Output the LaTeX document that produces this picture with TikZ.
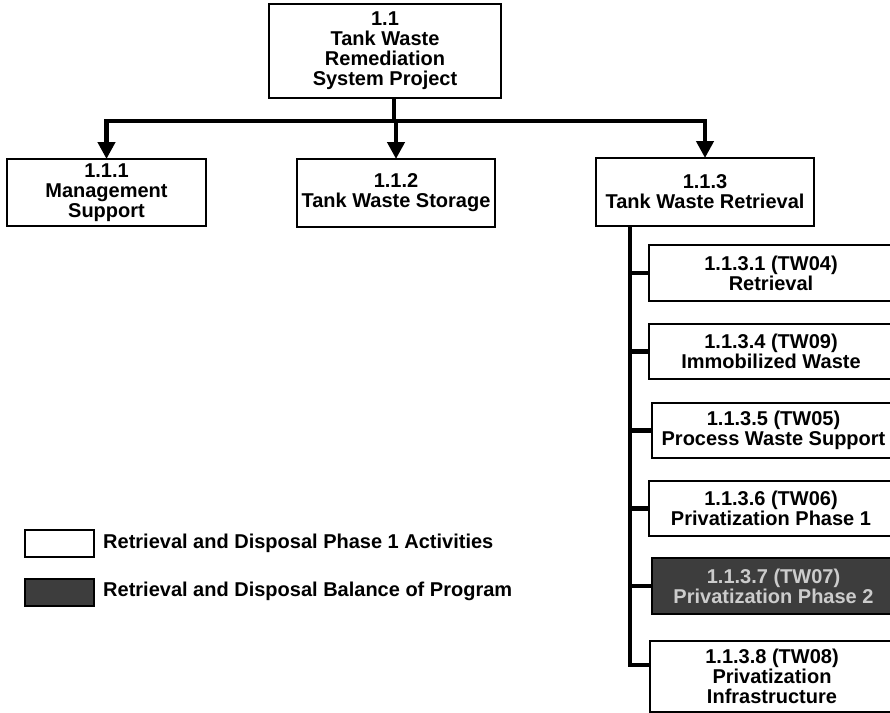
\documentclass[tikz,border=0pt]{standalone}
\usepackage{fontspec}
\setmainfont{Liberation Sans}
\usetikzlibrary{arrows.meta,calc}

\tikzset{
  wbs/.style={draw=black, line width=2pt, fill=white, anchor=north west,
    inner sep=0pt, align=center, font=\fontsize{20}{20}\selectfont\bfseries},
  wbsdark/.style={wbs, fill=black!76, text=black!20},
  link/.style={line width=4.5pt, line cap=butt},
  droparrow/.style={line width=4.5pt, -{Triangle[length=17pt,width=17pt]}, shorten >=-1pt},
  legtext/.style={anchor=west, inner sep=0pt, font=\fontsize{20}{20}\selectfont\bfseries}
}

\begin{document}
\begin{tikzpicture}[x=1pt,y=-1pt]
  \useasboundingbox[fill=white] (0,0) rectangle (890,712);

  % level 1
  \node[wbs, minimum width=232pt, minimum height=94pt] (top) at (268,3)
    {1.1\\Tank Waste\\Remediation\\System Project};

  % level 2
  \node[wbs, minimum width=199pt, minimum height=67pt] (mgmt) at (6,158)
    {1.1.1\\Management\\Support};
  \node[wbs, minimum width=198pt, minimum height=68pt] (stor) at (296,158)
    {1.1.2\\Tank Waste Storage};
  \node[wbs, minimum width=218pt, minimum height=68pt] (retr) at (595,157)
    {1.1.3\\Tank Waste Retrieval};

  % level 3 under 1.1.3
  \node[wbs, minimum width=244pt, minimum height=56pt] (c1) at (648,244)
    {1.1.3.1 (TW04)\\Retrieval};
  \node[wbs, minimum width=244pt, minimum height=55pt] (c4) at (648,323)
    {1.1.3.4 (TW09)\\Immobilized Waste};
  \node[wbs, minimum width=243pt, minimum height=55pt] (c5) at (651,402)
    {1.1.3.5 (TW05)\\Process Waste Support};
  \node[wbs, minimum width=244pt, minimum height=55pt] (c6) at (648,480)
    {1.1.3.6 (TW06)\\Privatization Phase 1};
  \node[wbsdark, minimum width=243pt, minimum height=56pt] (c7) at (651,557)
    {1.1.3.7 (TW07)\\Privatization Phase 2};
  \node[wbs, minimum width=244pt, minimum height=71pt] (c8) at (649,640)
    {1.1.3.8 (TW08)\\Privatization\\Infrastructure};

  % distribution bar from 1.1 to level 2
  \coordinate (bar) at (394,121);
  \draw[link] (bar |- top.south) -- (bar);
  \draw[link] ([xshift=-2.25pt]mgmt.north |- bar) -- ([xshift=2.25pt]retr.north |- bar);
  \draw[droparrow] (mgmt.north |- bar) -- (mgmt.north);
  \draw[droparrow] (stor.north |- bar) -- (stor.north);
  \draw[droparrow] (retr.north |- bar) -- (retr.north);

  % trunk under 1.1.3
  \coordinate (tk) at (630,0);
  \coordinate (c8in) at ($(c8.north west)+(0,25)$);
  \draw[link, line join=miter] (tk |- retr.south) -- (tk |- c8in) -- (c8in);
  \foreach \c in {c1,c4,c5,c6,c7}
    \draw[link] (tk |- \c.west) -- (\c.west);

  % legend
  \node[wbs, minimum width=69pt, minimum height=27pt] (lgw) at (24,529) {};
  \node[wbsdark, minimum width=69pt, minimum height=27pt] (lgd) at (24,578) {};
  \node[legtext] (lgwt) at (103,543) {Retrieval and Disposal Phase 1 Activities};
  \node[legtext] (lgdt) at (103,591) {Retrieval and Disposal Balance of Program};
\end{tikzpicture}
\end{document}
